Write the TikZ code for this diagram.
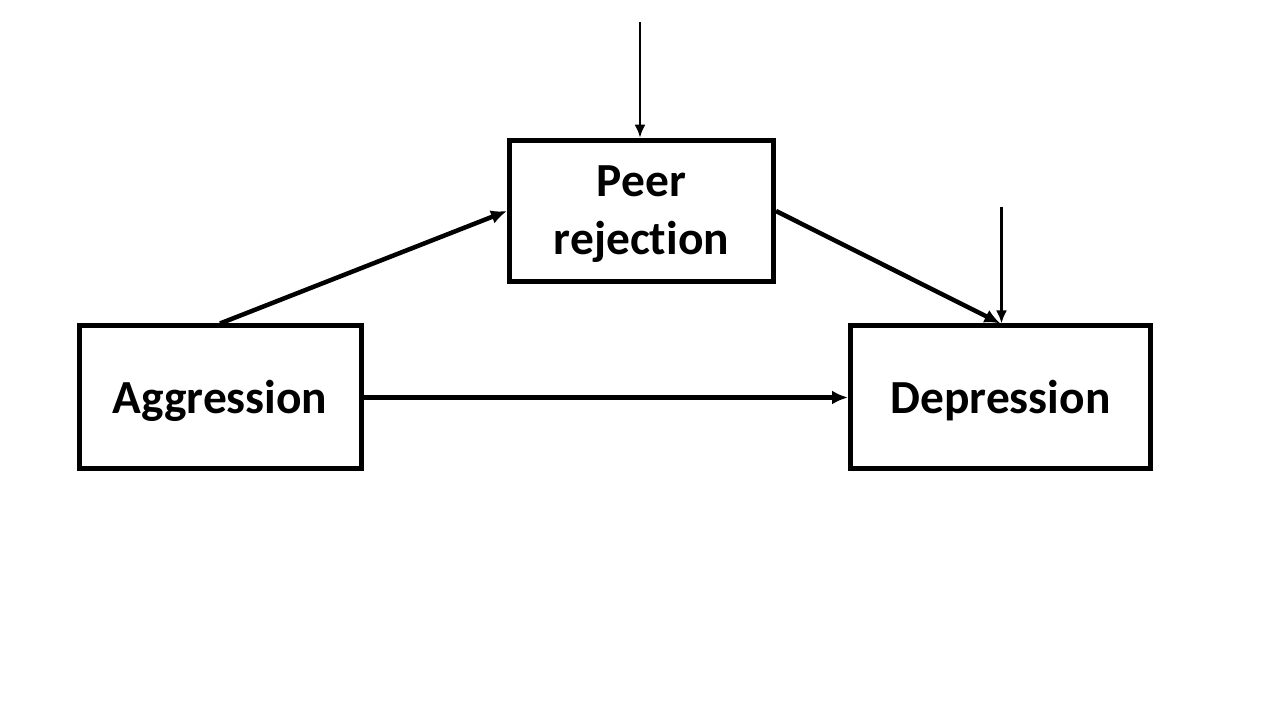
\documentclass[tikz,border=0pt]{standalone}
\usepackage{fontspec}
\setmainfont{Carlito}[Ligatures=NoCommon]
\usepackage{tikz}
\usetikzlibrary{arrows.meta, positioning}
\tikzset{
  var/.style={rectangle, draw=black, line width=0.1cm, fill=white,
    font=\bfseries\fontsize{27}{32.5}\selectfont, minimum height=2.86cm,
    align=center, text depth=1pt, inner sep=2pt},
  ar/.style={-{Latex[length=0.32cm, width=0.28cm]}, draw=black, line width=0.09cm},
  dist/.style={-{Latex[length=0.26cm, width=0.22cm]}, draw=black, line width=0.055cm},
}

\begin{document}
\begin{tikzpicture}

\useasboundingbox (0,0) rectangle (25.6,14.4);

\node[var, minimum width=5.28cm, minimum height=2.83cm] (PR) at (12.83,10.18) {Peer\\rejection};
\node[var, minimum width=5.64cm] (AG) at (4.40,6.45) {Aggression};
\node[var, minimum width=6.0cm] (DE) at (20.01,6.45) {Depression};

\coordinate (ePR) at (12.80,13.96);
\coordinate (eDE) at (20.03,10.26);

\draw[ar] (AG.north) -- (PR.west);
\draw[ar] (PR.east) -- (DE.north);
\draw[ar] (AG.east) -- (DE.west);

\draw[dist] (ePR) -- (ePR |- PR.north);
\draw[dist] (eDE) -- (eDE |- DE.north);

\end{tikzpicture}
\end{document}
